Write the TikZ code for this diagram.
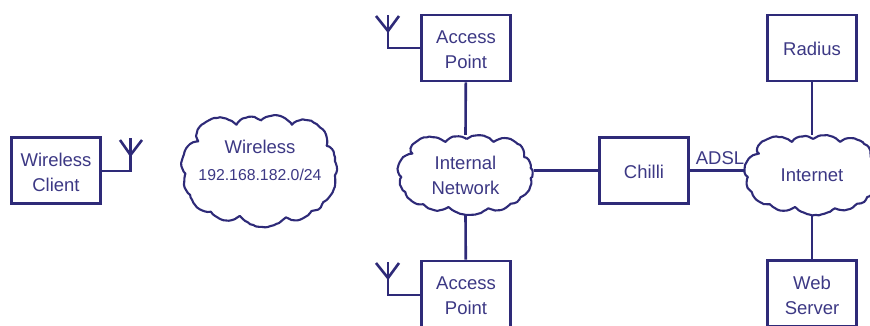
\documentclass[tikz,border=0pt]{standalone}
\usepackage{fontspec}
\setmainfont{Liberation Sans}
\usetikzlibrary{decorations.pathmorphing}
\definecolor{ink}{HTML}{2E2A78}
\definecolor{txt}{HTML}{3C3884}
\tikzset{
  wire/.style={draw=ink,line width=2.6pt,line join=miter},
  boxnode/.style={draw=ink,line width=2.6pt,minimum width=89pt,minimum height=66pt,inner sep=0pt},
  boxtext/.style={inner sep=0pt,yshift=-1.5pt,text=txt,font=\fontsize{18.5}{25}\selectfont,align=center},
  cloudanchor/.style={inner sep=0pt,minimum width=136pt,minimum height=80pt,
    text=txt,font=\fontsize{18.5}{25}\selectfont,align=center},
  txtlabel/.style={inner sep=0pt,text=txt},
  cloudline/.style={draw=ink,line width=2.1pt,fill=white,line join=round,
    decorate,decoration={random steps,segment length=3pt,amplitude=0.35pt}},
  lobe/.style={bend left=40}
}
\newcommand{\cloudoutline}[3][]{%
  \begin{scope}[shift={(#2)},#3]
  \path[cloudline] (1,-36) to[lobe] (28,-33) to[lobe] (52,-31) to[lobe] (58,-18)
    to[lobe] (65,-7) to[lobe] (65,3) to[lobe] (55,22) to[lobe] (45,28) to[lobe] (23,33)
    to[lobe] (-17,32) to[lobe] (-42,29) to[lobe] (-60,17) to[lobe] (-64,2)
    to[lobe] (-66,-10) to[lobe] (-53,-21) to[lobe] (-52,-31) to[lobe] (-20,-33) to[lobe] cycle;
  \end{scope}}
\begin{document}
\begin{tikzpicture}[x=1pt,y=-1pt]
\useasboundingbox (0,0) rectangle (870,325);
\clip (0,0) rectangle (870,325);
% named positions
\coordinate (cw) at (259.5,171);
\coordinate (ci) at (465.5,175);
\coordinate (cn) at (812,175);
% clouds
\cloudoutline{cw}{xscale=1.155,yscale=1.4}
\cloudoutline{ci}{}
\cloudoutline{cn}{}
\node[txtlabel,font=\fontsize{18.5}{25}\selectfont] (wl1) at (260,147) {Wireless};
\node[txtlabel,font=\fontsize{15.8}{20}\selectfont] (wl2) at (260,175) {192.168.182.0/24};
\node[cloudanchor] (internal) at (ci) {Internal\\Network};
\node[cloudanchor] (internet) at (cn) {Internet};
% boxes
\node[boxnode,label={[boxtext,name=clientt]center:Wireless\\Client}] (client) at (56,170.5) {};
\node[boxnode,label={[boxtext,name=ap1t]center:Access\\Point}] (ap1) at (466,48) {};
\node[boxnode,label={[boxtext,name=ap2t]center:Access\\Point}] (ap2) at (466,294) {};
\node[boxnode,label={[boxtext,name=chillit,yshift=0.5pt]center:Chilli}] (chilli) at (644,170.5) {};
\node[boxnode,label={[boxtext,name=radiust,yshift=0.5pt]center:Radius}] (radius) at (812,48) {};
\node[boxnode,label={[boxtext,name=webt]center:Web\\Server}] (web) at (812,293.5) {};
\node[txtlabel,font=\fontsize{18.5}{25}\selectfont,anchor=base] (adsl) at (720,164) {ADSL};
% connectors
\draw[wire] (ap1) -- (internal.north);
\draw[wire] (ap2) -- (internal.south);
\draw[wire] (chilli.west) -- (internal.east |- chilli.west);
\draw[wire] (chilli.east) -- (internet.west |- chilli.east);
\draw[wire] (radius) -- (internet.north);
\draw[wire] (web) -- (internet.south);
% antennas
\coordinate (a0) at (130.5,171);
\coordinate (a0s) at (130.5,155);
\coordinate (a0t) at (130.5,138);
\coordinate (a0l) at (120,140);
\coordinate (a0r) at (142,140);
\draw[wire] (client.east |- a0) -- (a0) -- (a0t);
\draw[wire] (a0l) -- (a0s) -- (a0r);
\coordinate (a1) at (388,48);
\coordinate (a1s) at (388,31);
\coordinate (a1t) at (388,15);
\coordinate (a1l) at (376,16);
\coordinate (a1r) at (399,16);
\draw[wire] (ap1.west) -- (a1) -- (a1t);
\draw[wire] (a1l) -- (a1s) -- (a1r);
\coordinate (a2) at (388,295);
\coordinate (a2s) at (388,278);
\coordinate (a2t) at (388,262);
\coordinate (a2l) at (376,263);
\coordinate (a2r) at (399,263);
\draw[wire] (ap2.west |- a2) -- (a2) -- (a2t);
\draw[wire] (a2l) -- (a2s) -- (a2r);
\end{tikzpicture}
\end{document}
